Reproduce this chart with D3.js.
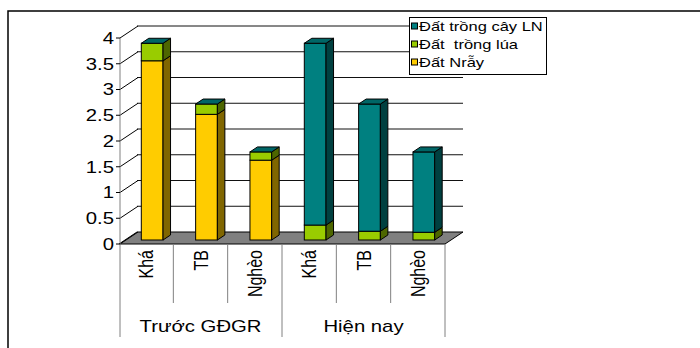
<!DOCTYPE html>
<html>
<head>
<meta charset="utf-8">
<script src="https://cdn.jsdelivr.net/npm/d3@7"></script>
<style>
  html, body { margin: 0; padding: 0; background: #fff; }
  svg { display: block; }
  text { font-family: "Liberation Sans", Arial, sans-serif; fill: #000; }
</style>
</head>
<body>
<div id="chart"></div>
<script>
// Land area per household group, before allocation and now
const groups = ["Trước GĐGR", "Hiện nay"];
const levels = ["Khá", "TB", "Nghèo"];
const seriesNames = ["Đất trồng cây LN", "Đất  trồng lúa", "Đất Nrẫy"];
const datNray   = [3.48, 2.44, 1.55, 0, 0, 0];
const datLua    = [0.34, 0.20, 0.16, 0.29, 0.17, 0.15];
const datCayLN  = [0, 0, 0, 3.53, 2.47, 1.56];
const yTicks = [0, 0.5, 1, 1.5, 2, 2.5, 3, 3.5, 4];
const yTickLabels = ["0", "0.5", "1", "1.5", "2", "2.5", "3", "3.5", "4"];

const W = 700, H = 348;
const SX = 1.27;            // horizontal text stretch
const DX = 18, DY = -12;    // floor / wall depth
const BOX = 6, BOY = -4;    // bar front plane offset
const BDX = 7.5, BDY = -5;  // bar depth

const colors = { nray: "#FFCC00", lua: "#99CC00", cay: "#008080" };
const sideColors = { nray: "#806600", lua: "#4D6600", cay: "#004040" };
const topColor = "#006666";

const rows = datNray.map((v, i) => ({
  idx: i,
  group: groups[Math.floor(i / 3)],
  level: levels[i % 3],
  nray: v, lua: datLua[i], cay: datCayLN[i]
}));

const svg = d3.select("#chart").append("svg").attr("width", W).attr("height", H);

const x = d3.scaleBand().domain(d3.range(rows.length)).range([119, 445]).padding(0);
const y = d3.scaleLinear().domain([0, 4]).range([244, 38]);

// outer frame (top and left)
svg.append("path").attr("d", `M8,348 L8,11 L700,11`)
  .attr("fill", "none").attr("stroke", "#000").attr("stroke-width", 1.5);

// floor
const x0 = x.range()[0], x1 = x.range()[1];
svg.append("path")
  .attr("d", `M${x0},${y(0)} L${x1},${y(0)} L${x1 + DX},${y(0) + DY} L${x0 + DX},${y(0) + DY} Z`)
  .attr("fill", "#808080").attr("stroke", "#000").attr("stroke-width", 1);

// back wall gridlines and left wall diagonals
const grid = svg.append("g");
grid.selectAll("line.back").data(yTicks.filter(t => t > 0)).join("line")
  .attr("x1", x0 + DX).attr("x2", x1 + DX)
  .attr("y1", d => y(d) + DY).attr("y2", d => y(d) + DY)
  .attr("stroke", "#111").attr("stroke-width", 1);
grid.selectAll("line.side").data(yTicks).join("line")
  .attr("x1", x0 + 1).attr("x2", x0 + 1 + DX)
  .attr("y1", d => y(d)).attr("y2", d => y(d) + DY)
  .attr("stroke", "#000").attr("stroke-width", 1);

// y axis line, ticks and labels
svg.append("line").attr("x1", x0 + 1).attr("x2", x0 + 1)
  .attr("y1", y(0)).attr("y2", y(4)).attr("stroke", "#808080");
svg.selectAll("line.tick").data(yTicks).join("line")
  .attr("x1", x0 - 3).attr("x2", x0 + 1)
  .attr("y1", d => y(d)).attr("y2", d => y(d))
  .attr("stroke", "#000");
svg.selectAll("text.ylab").data(yTicks).join("text")
  .attr("transform", d => `translate(114,${y(d)}) scale(${SX},1)`)
  .attr("text-anchor", "end").attr("dy", "0.36em")
  .style("font-size", "16px")
  .text((d, i) => yTickLabels[i]);

// stacked 3D bars
const keys = ["nray", "lua", "cay"];
const stacked = d3.stack().keys(keys)(rows);
const bw = x.bandwidth() * 0.4;
const bars = svg.append("g");
rows.forEach((r, i) => {
  const bx0 = x(i) + x.bandwidth() / 2 - bw / 2 + BOX;
  const bx1 = bx0 + bw;
  const g = bars.append("g");
  stacked.forEach(layer => {
    const seg = layer[i];
    const yb = y(seg[0]) + BOY, yt = y(seg[1]) + BOY;
    if (seg[1] - seg[0] <= 0) return;
    g.append("rect").attr("x", bx0).attr("y", yt).attr("width", bw).attr("height", yb - yt)
      .attr("fill", colors[layer.key]).attr("stroke", "#000").attr("stroke-width", 1);
    g.append("path")
      .attr("d", `M${bx1},${yt} L${bx1 + BDX},${yt + BDY} L${bx1 + BDX},${yb + BDY} L${bx1},${yb} Z`)
      .attr("fill", sideColors[layer.key]).attr("stroke", "#000").attr("stroke-width", 1);
  });
  const top = stacked[stacked.length - 1][i][1];
  const yt = y(top) + BOY;
  g.append("path")
    .attr("d", `M${bx0},${yt} L${bx1},${yt} L${bx1 + BDX},${yt + BDY} L${bx0 + BDX},${yt + BDY} Z`)
    .attr("fill", topColor).attr("stroke", "#000").attr("stroke-width", 1);
});

// category separators below the floor
const edges = d3.range(rows.length + 1);
svg.selectAll("line.sep").data(edges).join("line")
  .attr("x1", d => d === rows.length ? x1 : x(d) + (d === 0 ? 1 : 0))
  .attr("x2", d => d === rows.length ? x1 : x(d) + (d === 0 ? 1 : 0))
  .attr("y1", y(0))
  .attr("y2", d => d % 3 === 0 ? 337 : 303)
  .attr("stroke", "#808080").attr("stroke-width", 1);

// rotated level labels
svg.selectAll("text.lvl").data(rows).join("text")
  .attr("transform", d => `translate(${x(d.idx) + x.bandwidth() / 2 + 7},250) scale(${SX},1) rotate(-90)`)
  .attr("text-anchor", "end")
  .style("font-size", "16px")
  .text(d => d.level);

// group labels
svg.selectAll("text.grp").data(groups).join("text")
  .attr("transform", (d, gi) => {
    const cx = (x(gi * 3) + x(gi * 3 + 2) + x.bandwidth()) / 2;
    return `translate(${cx},331.5) scale(${SX},1)`;
  })
  .attr("text-anchor", "middle")
  .style("font-size", "16px")
  .text(d => d);

// legend
const legendKeys = ["cay", "lua", "nray"];
const lg = svg.append("g");
lg.append("rect").attr("x", 409.5).attr("y", 17.5).attr("width", 137).attr("height", 57)
  .attr("fill", "#fff").attr("stroke", "#000").attr("stroke-width", 1);
legendKeys.forEach((k, i) => {
  const cy = 26 + i * 18;
  lg.append("rect").attr("x", 411.5).attr("y", cy - 3).attr("width", 6).attr("height", 6)
    .attr("fill", colors[k]).attr("stroke", "#000").attr("stroke-width", 1);
  lg.append("text")
    .attr("transform", `translate(419,${cy}) scale(${SX},1)`)
    .attr("dy", "0.36em")
    .attr("xml:space", "preserve")
    .style("white-space", "pre")
    .style("font-size", "13px")
    .text(seriesNames[i]);
});
</script>
</body>
</html>
